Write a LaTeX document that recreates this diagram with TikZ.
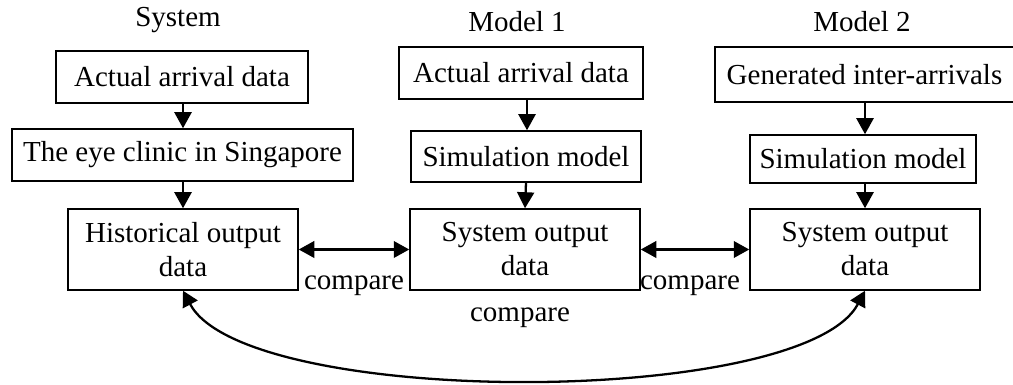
\documentclass[tikz,border=0pt]{standalone}
\usepackage{fontspec}
\setmainfont{Liberation Serif}
\usetikzlibrary{arrows.meta}

\begin{document}
\begin{tikzpicture}[x=0.2mm,y=0.2mm]
  \tikzset{
    box/.style={draw,line width=0.85pt,inner sep=0pt,align=center,font=\fontsize{16.5}{19.3}\selectfont},
    head/.style={font=\fontsize{16.5}{19.3}\selectfont,anchor=base},
    flow/.style={line width=1.3pt,-{Triangle[length=3.2mm,width=3.4mm]}},
    both/.style={line width=1.3pt,{Triangle[length=3.1mm,width=3.3mm]}-{Triangle[length=3.1mm,width=3.3mm]}}
  }
  \useasboundingbox (0,0) rectangle (1013,385);

  % column headings
  \node[head] (tSys) at (178,358) {System};
  \node[head] (tM1) at (517,353) {Model 1};
  \node[head] (tM2) at (862,353) {Model 2};

  % system column
  \node[box,minimum width=50.4mm,minimum height=10.4mm] (sysIn) at (182,308) {Actual arrival data};
  \node[box,minimum width=68.2mm,minimum height=10.4mm] (clinic) at (182.5,230) {The eye clinic in Singapore};
  \node[box,minimum width=46mm,minimum height=16.2mm] (hist) at (183,135.5) {Historical output\\data};

  % model 1 column
  \node[box,minimum width=48.8mm,minimum height=10.4mm] (m1In) at (521,312) {Actual arrival data};
  \node[box,minimum width=46mm,minimum height=10.2mm] (m1Sim) at (526,228.5) {Simulation model};
  \node[box,minimum width=46mm,minimum height=16.2mm] (m1Out) at (525,135.5) {System output\\data};

  % model 2 column
  \node[box,minimum width=59.8mm,minimum height=11mm] (m2In) at (864.5,310.5) {Generated inter-arrivals};
  \node[box,minimum width=45.2mm,minimum height=9.6mm] (m2Sim) at (863,226) {Simulation model};
  \node[box,minimum width=46mm,minimum height=16.2mm] (m2Out) at (865,135.5) {System output\\data};

  \draw[flow] (sysIn.south -| hist.north) -- (clinic.north -| hist.north);
  \draw[flow] (clinic.south -| hist.north) -- (hist.north);
  \draw[flow] (m1In.south -| 527,0) -- (m1Sim.north -| 527,0);
  \draw[flow] (m1Sim.south) -- (m1Out.north);
  \draw[flow] (m2In.south -| m2Out.north) -- (m2Sim.north -| m2Out.north);
  \draw[flow] (m2Sim.south -| m2Out.north) -- (m2Out.north);

  % comparisons
  \draw[both] (hist.east) -- (m1Out.west);
  \draw[both] (m1Out.east) -- (m2Out.west);
  \draw[both] (hist.south) to[out=-62,in=-118,looseness=0.5] (m2Out.south);
  \node[head] (cmpA) at (354,95) {compare};
  \node[head] (cmpB) at (690,95) {compare};
  \node[head] (cmpC) at (520,63) {compare};
\end{tikzpicture}
\end{document}
